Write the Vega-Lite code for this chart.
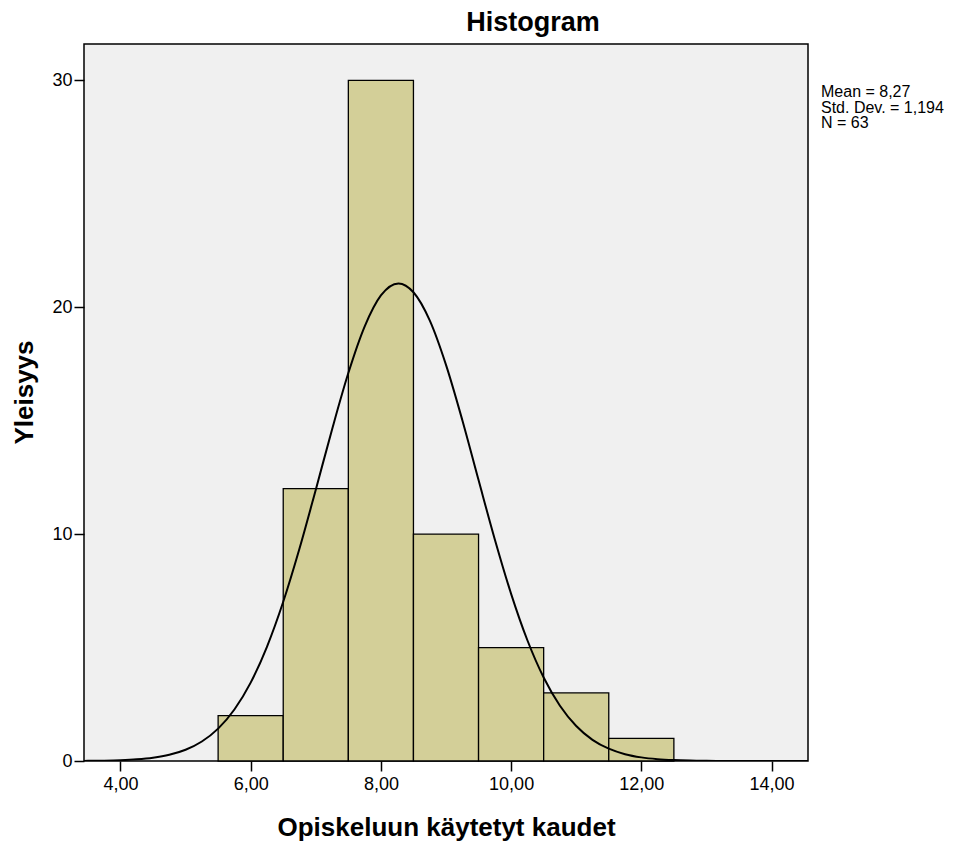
{
  "$schema": "https://vega.github.io/schema/vega-lite/v6.json",
  "width": 724,
  "height": 717,
  "autosize": {"type": "none"},
  "padding": {"left": 84, "top": 44, "right": 163, "bottom": 81},
  "background": "white",
  "config": {
    "font": "Liberation Sans",
    "view": {"fill": "#f0f0f0", "stroke": "#000000", "strokeWidth": 1.5}
  },
  "title": {
    "text": "Histogram",
    "font": "Liberation Sans",
    "fontSize": 27,
    "fontWeight": "bold",
    "color": "#000000",
    "anchor": "middle",
    "dx": 87,
    "offset": 7
  },
  "datasets": {
    "bins": [
      {"bin_start": 5.5, "bin_end": 6.5, "count": 2},
      {"bin_start": 6.5, "bin_end": 7.5, "count": 12},
      {"bin_start": 7.5, "bin_end": 8.5, "count": 30},
      {"bin_start": 8.5, "bin_end": 9.5, "count": 10},
      {"bin_start": 9.5, "bin_end": 10.5, "count": 5},
      {"bin_start": 10.5, "bin_end": 11.5, "count": 3},
      {"bin_start": 11.5, "bin_end": 12.5, "count": 1}
    ],
    "curve": [
      {"x": 3.44, "y": 0.003},
      {"x": 3.5, "y": 0.007},
      {"x": 3.75, "y": 0.016},
      {"x": 4.0, "y": 0.035},
      {"x": 4.25, "y": 0.073},
      {"x": 4.5, "y": 0.144},
      {"x": 4.75, "y": 0.273},
      {"x": 5.0, "y": 0.495},
      {"x": 5.25, "y": 0.859},
      {"x": 5.5, "y": 1.427},
      {"x": 5.75, "y": 2.27},
      {"x": 6.0, "y": 3.454},
      {"x": 6.25, "y": 5.033},
      {"x": 6.5, "y": 7.016},
      {"x": 6.75, "y": 9.363},
      {"x": 7.0, "y": 11.957},
      {"x": 7.25, "y": 14.615},
      {"x": 7.5, "y": 17.097},
      {"x": 7.75, "y": 19.145},
      {"x": 8.0, "y": 20.52},
      {"x": 8.27, "y": 21.05},
      {"x": 8.5, "y": 20.66},
      {"x": 8.75, "y": 19.42},
      {"x": 9.0, "y": 17.46},
      {"x": 9.25, "y": 15.03},
      {"x": 9.5, "y": 12.38},
      {"x": 9.75, "y": 9.763},
      {"x": 10.0, "y": 7.367},
      {"x": 10.25, "y": 5.322},
      {"x": 10.5, "y": 3.679},
      {"x": 10.75, "y": 2.435},
      {"x": 11.0, "y": 1.542},
      {"x": 11.25, "y": 0.934},
      {"x": 11.5, "y": 0.542},
      {"x": 11.75, "y": 0.301},
      {"x": 12.0, "y": 0.16},
      {"x": 12.25, "y": 0.081},
      {"x": 12.5, "y": 0.04},
      {"x": 12.75, "y": 0.019},
      {"x": 13.0, "y": 0.008},
      {"x": 13.5, "y": 0.0014},
      {"x": 14.0, "y": 0.0002},
      {"x": 14.56, "y": 0.0}
    ],
    "stats": [
      {"label": "Mean = 8,27\nStd. Dev. = 1,194\nN = 63"}
    ]
  },
  "layer": [
    {
      "data": {"name": "bins"},
      "mark": {"type": "bar", "fill": "#d3cf98", "stroke": "#000000", "strokeWidth": 1.3},
      "encoding": {
        "x": {
          "field": "bin_start",
          "type": "quantitative",
          "scale": {"domain": [3.44, 14.56], "nice": false, "zero": false},
          "axis": {
            "values": [4, 6, 8, 10, 12, 14],
            "labelExpr": "replace(format(datum.value, '.2f'), '.', ',')",
            "labelFontSize": 18,
            "labelColor": "#000000",
            "labelPadding": 4,
            "tickSize": 10,
            "tickWidth": 1.5,
            "tickColor": "#000000",
            "domain": false,
            "grid": false,
            "title": "Opiskeluun käytetyt kaudet",
            "titleFontSize": 26,
            "titleFontWeight": "bold",
            "titleColor": "#000000",
            "titleBaseline": "alphabetic",
            "titleY": 74
          }
        },
        "x2": {"field": "bin_end"},
        "y": {
          "field": "count",
          "type": "quantitative",
          "scale": {"domain": [0, 31.6], "nice": false},
          "axis": {
            "values": [0, 10, 20, 30],
            "labelFontSize": 18,
            "labelColor": "#000000",
            "labelPadding": 2,
            "tickSize": 10,
            "tickWidth": 1.5,
            "tickColor": "#000000",
            "domain": false,
            "grid": false,
            "title": "Yleisyys",
            "titleFontSize": 26,
            "titleFontWeight": "bold",
            "titleColor": "#000000",
            "titleBaseline": "alphabetic",
            "titleAlign": "center",
            "titleX": -52,
            "titleY": 348
          }
        },
        "y2": {"datum": 0}
      }
    },
    {
      "data": {"name": "curve"},
      "mark": {"type": "line", "color": "#000000", "strokeWidth": 2, "interpolate": "monotone", "clip": true},
      "encoding": {
        "x": {"field": "x", "type": "quantitative"},
        "y": {"field": "y", "type": "quantitative"}
      }
    },
    {
      "data": {"name": "stats"},
      "mark": {
        "type": "text",
        "align": "left",
        "baseline": "alphabetic",
        "fontSize": 16,
        "lineHeight": 15.5,
        "lineBreak": "\n",
        "color": "#000000",
        "dx": 13
      },
      "encoding": {
        "x": {"datum": 14.56},
        "y": {"datum": 29.25},
        "text": {"field": "label", "type": "nominal"}
      }
    }
  ]
}
